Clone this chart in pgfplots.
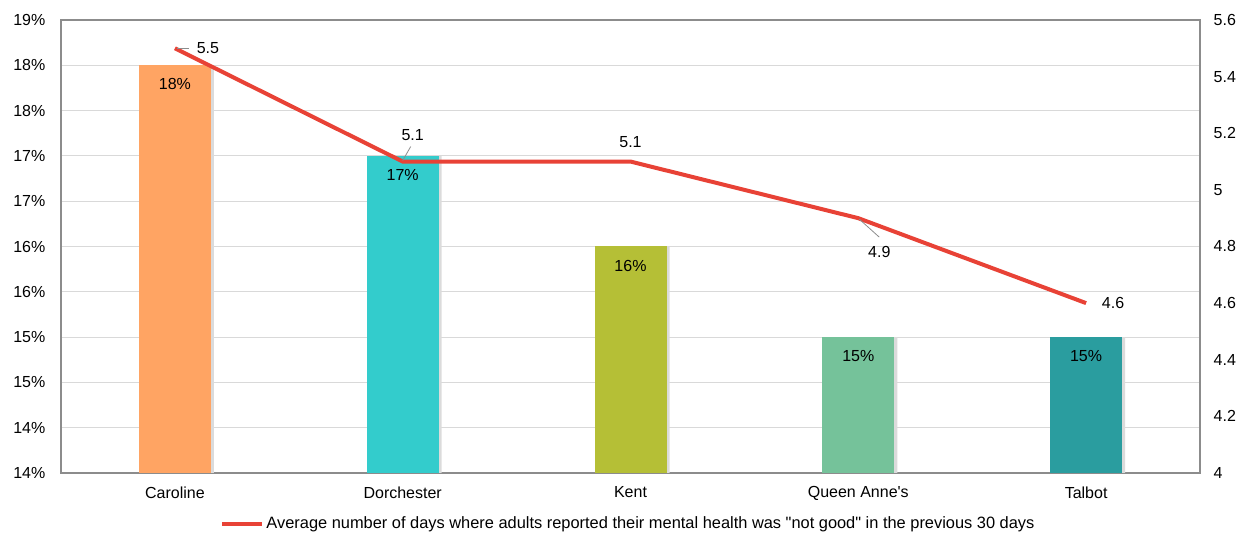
\documentclass[border=0pt]{standalone}
\usepackage{fontspec}
\setmainfont{Liberation Sans}
\newfontfamily\plainfont{Liberation Sans}
\usepackage{pgfplots}
\pgfplotsset{compat=1.18}
\definecolor{cCar}{HTML}{FFA463}
\definecolor{cDor}{HTML}{33CCCC}
\definecolor{cKen}{HTML}{B5BF36}
\definecolor{cQue}{HTML}{75C29A}
\definecolor{cTal}{HTML}{2A9D9F}
\definecolor{cLine}{HTML}{E84236}
\definecolor{cAxis}{HTML}{8C8C8C}
\definecolor{cGrid}{HTML}{D9D9D9}
\begin{document}
\begin{tikzpicture}[font=\fontsize{8}{9.6}\selectfont]
\begin{axis}[
  name=ax, at={(0,0)}, anchor=south west,
  scale only axis, width=569.5pt, height=226.5pt,
  xmin=-0.5, xmax=4.5, ymin=14, ymax=19,
  ytick={14,14.5,15,15.5,16,16.5,17,17.5,18,18.5,19},
  yticklabels={14\%,14\%,15\%,15\%,16\%,16\%,17\%,17\%,18\%,18\%,19\%},
  xtick={0,1,2,3,4},
  xticklabels={Caroline,Dorchester,Kent,{Queen Anne{\plainfont'}s},Talbot},
  ymajorgrids, grid style={draw=cGrid, line width=0.5pt},
  axis line style={draw=cAxis, line width=0.8pt},
  tick style={draw=none},
  yticklabel style={xshift=-4.3pt},
  xticklabel style={yshift=1pt},
  ybar, bar width=36pt,
  point meta=explicit symbolic,
  every node near coord/.append style={anchor=center, yshift=-9.5pt, font=\fontsize{8}{9.6}\selectfont, text=black},
]
\addplot[fill=black!14, draw=none, bar shift=1.5pt] coordinates {(0,18.5) (1,17.5) (2,16.5) (3,15.5) (4,15.5)};
\addplot[fill=cCar, draw=none, bar shift=0pt, nodes near coords] coordinates {(0,18.5) [18\%]};
\addplot[fill=cDor, draw=none, bar shift=0pt, nodes near coords] coordinates {(1,17.5) [17\%]};
\addplot[fill=cKen, draw=none, bar shift=0pt, nodes near coords] coordinates {(2,16.5) [16\%]};
\addplot[fill=cQue, draw=none, bar shift=0pt, nodes near coords] coordinates {(3,15.5) [15\%]};
\addplot[fill=cTal, draw=none, bar shift=0pt, nodes near coords] coordinates {(4,15.5) [15\%]};
\end{axis}
\begin{axis}[
  at={(0,0)}, anchor=south west,
  scale only axis, width=569.5pt, height=226.5pt,
  xmin=-0.5, xmax=4.5, ymin=4, ymax=5.6,
  axis x line=none, axis y line*=right,
  axis line style={draw=cAxis, line width=0.8pt},
  tick style={draw=none},
  ytick={4,4.2,4.4,4.6,4.8,5,5.2,5.4,5.6},
  yticklabels={4,4.2,4.4,4.6,4.8,5,5.2,5.4,5.6},
  yticklabel style={xshift=3.3pt, anchor=west},
  legend style={at={(0.5,0)}, anchor=center, yshift=-25.5pt, xshift=-1pt, draw=none, fill=none, inner sep=0pt,
    nodes={inner sep=1pt, font=\fontsize{8.2}{9.8}\selectfont}},
  legend image code/.code={\draw[#1, line width=2pt] (0pt,0pt) -- (20pt,0pt);},
]
\addplot[cLine, line width=2pt, mark=none] coordinates {(0,5.5) (1,5.1) (2,5.1) (3,4.9) (4,4.6)};
\addlegendentry{Average number of days where adults reported their mental health was {\plainfont"}not good{\plainfont"} in the previous 30 days}
\draw[cAxis, line width=0.4pt] ([xshift=1pt]axis cs:0,5.5) -- ([xshift=7pt]axis cs:0,5.5);
\node at ([xshift=16.5pt]axis cs:0,5.5) {5.5};
\draw[cAxis, line width=0.4pt] ([yshift=0.5pt]axis cs:1,5.1) -- ([xshift=4pt,yshift=7.5pt]axis cs:1,5.1);
\node at ([xshift=5pt,yshift=13pt]axis cs:1,5.1) {5.1};
\node at ([yshift=9.5pt]axis cs:2,5.1) {5.1};
\draw[cAxis, line width=0.4pt] ([xshift=0.5pt,yshift=-0.5pt]axis cs:3,4.9) -- ([xshift=10.5pt,yshift=-9.5pt]axis cs:3,4.9);
\node at ([xshift=10.5pt,yshift=-17pt]axis cs:3,4.9) {4.9};
\node at ([xshift=13.5pt]axis cs:4,4.6) {4.6};
\end{axis}
\pgfresetboundingbox
\path (-30.5pt,-33pt) rectangle (588.5pt,236.5pt);
\end{tikzpicture}
\end{document}
